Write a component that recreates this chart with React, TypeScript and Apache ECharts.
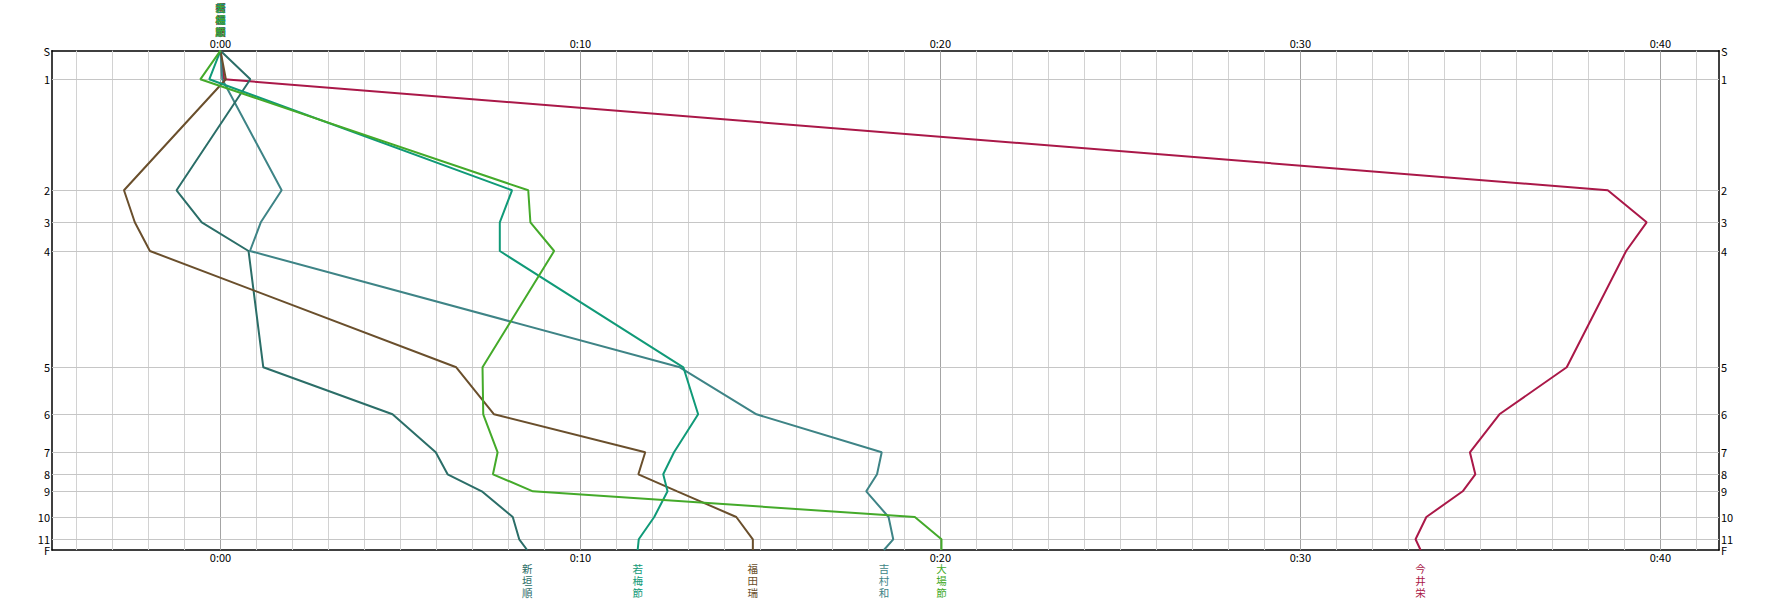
import React, { useEffect, useRef } from "react";
import * as echarts from "echarts";

// Controls (rows) and their vertical positions (cumulative leg scale)
const controls = ["S", "1", "2", "3", "4", "5", "6", "7", "8", "9", "10", "11", "F"];
const controlPos = [0, 28.6, 139.6, 171.6, 200.3, 316.6, 363.6, 401.6, 423.6, 440.6, 466.3, 488.6, 499.3];

// X axis tick labels (minutes) and minute grid lines
const majorTicks = [0, 10, 20, 30, 40];
const minuteLines = [-4, -3, -2, -1, 0, 1, 2, 3, 4, 5, 6, 7, 8, 9, 10, 11, 12, 13, 14, 15, 16, 17, 18, 19, 20, 21, 22, 23, 24, 25, 26, 27, 28, 29, 30, 31, 32, 33, 34, 35, 36, 37, 38, 39, 40, 41];

// Runner names
const runnerNames = ["今井栄", "吉村和", "新垣順", "福田瑞", "若梅節", "大場節"];

// Time (minutes, relative) at each control, per runner
const imai = [0, 0.1, 38.54, 39.62, 39.05, 37.4, 35.53, 34.71, 34.86, 34.51, 33.5, 33.2, 33.34];
const yoshimura = [0, 0.05, 1.7, 1.12, 0.82, 12.76, 14.89, 18.37, 18.24, 17.94, 18.56, 18.69, 18.43];
const aragaki = [0, 0.83, -1.22, -0.52, 0.78, 1.19, 4.78, 5.98, 6.31, 7.26, 8.12, 8.3, 8.52];
const fukuda = [0, 0.15, -2.68, -2.38, -1.96, 6.55, 7.6, 11.8, 11.61, 12.69, 14.33, 14.79, 14.79];
const wakaume = [0, -0.31, 8.1, 7.76, 7.76, 12.86, 13.27, 12.6, 12.3, 12.42, 12.05, 11.62, 11.59];
const ooba = [0, -0.56, 8.55, 8.61, 9.27, 7.28, 7.3, 7.7, 7.57, 8.68, 19.29, 20.03, 20.03];

const runnerTimes = [imai, yoshimura, aragaki, fukuda, wakaume, ooba];
const runnerColors = ["#aa1848", "#3e8486", "#2b6e68", "#6a4f2c", "#109a78", "#44aa2a"];

const FONT = "'Noto Sans CJK JP', 'Noto Sans', sans-serif";

function fmtTime(v: number) {
  const h = Math.floor(v / 60);
  const m = Math.round(v % 60);
  return `${h}:${String(m).padStart(2, "0")}`;
}

function ctrlLabel(v: number) {
  const i = controlPos.findIndex((p) => Math.abs(p - v) < 0.01);
  return i >= 0 ? controls[i] : "";
}

export default function App() {
  const ref = useRef<HTMLDivElement>(null);

  useEffect(() => {
    if (!ref.current) return;
    const chart = echarts.init(ref.current, null, { renderer: "svg" });

    const xMin = -4.68;
    const xMax = 41.63;
    const yMax = controlPos[controlPos.length - 1];

    const xAxisBase = (position: "top" | "bottom", margin: number) => ({
      type: "value",
      min: xMin,
      max: xMax,
      position,
      axisLine: { show: true, onZero: false, lineStyle: { color: "#000", width: 1.5 } },
      axisTick: { show: false },
      splitLine: { show: false },
      axisLabel: {
        customValues: majorTicks,
        formatter: (v: number) => fmtTime(v),
        color: "#000",
        fontSize: 11,
        fontFamily: FONT,
        margin,
        hideOverlap: false,
      },
    });

    const yAxisBase = (position: "left" | "right", values: number[], showLine: boolean) => ({
      type: "value",
      min: 0,
      max: yMax,
      inverse: true,
      position,
      axisLine: { show: showLine, onZero: false, lineStyle: { color: "#000", width: 1.5 } },
      axisTick: { show: false },
      splitLine: { show: false },
      axisLabel: {
        customValues: values,
        formatter: (v: number) => ctrlLabel(v),
        color: "#000",
        fontSize: 11,
        lineHeight: 10,
        fontFamily: FONT,
        margin: 2,
        showMinLabel: true,
        showMaxLabel: true,
        hideOverlap: false,
      },
    });

    const mainRows = controlPos.slice(0, -1);
    const finishRow = controlPos.slice(-1);

    const gridSeries = {
      type: "line",
      data: [],
      z: 1,
      silent: true,
      markLine: {
        z: 1,
        silent: true,
        symbol: ["none", "none"],
        label: { show: false },
        emphasis: { disabled: true },
        data: [
          ...minuteLines.map((m) => ({
            xAxis: m,
            lineStyle: { color: m % 10 === 0 ? "#a4a4a4" : "#d2d2d2", width: 1, type: "solid" },
          })),
          ...controlPos.slice(1, -1).map((p) => ({
            yAxis: p,
            lineStyle: { color: "#c6c6c6", width: 1, type: "solid" },
          })),
        ],
      },
    };

    const runnerSeries = runnerNames.map((name, k) => {
      const t = runnerTimes[k];
      const color = runnerColors[k];
      const vertical = name.split("").join("\n");
      return {
        name,
        type: "line",
        z: 3,
        data: controlPos.map((p, i) => [t[i], p]),
        symbol: "none",
        showSymbol: false,
        lineStyle: { color, width: 2 },
        itemStyle: { color },
        emphasis: { disabled: true },
        markPoint: {
          symbol: "rect",
          symbolSize: 1,
          silent: true,
          itemStyle: { color: "rgba(0,0,0,0)" },
          label: {
            show: true,
            formatter: vertical,
            color,
            fontSize: 10.5,
            lineHeight: 12,
            fontFamily: FONT,
          },
          data: [
            { coord: [t[0], controlPos[0]], label: { position: "top", distance: 13 } },
            {
              coord: [t[t.length - 1], controlPos[controlPos.length - 1]],
              label: { position: "bottom", distance: 12 },
            },
          ],
        },
      };
    });

    chart.setOption({
      animation: false,
      backgroundColor: "#fff",
      grid: { left: 52, right: 52, top: 50.7, bottom: 50, containLabel: false },
      xAxis: [xAxisBase("bottom", 1), xAxisBase("top", 2)],
      yAxis: [
        yAxisBase("left", mainRows, true),
        yAxisBase("right", mainRows, true),
        yAxisBase("left", finishRow, false),
        yAxisBase("right", finishRow, false),
      ],
      series: [gridSeries, ...runnerSeries],
    });

    return () => {
      chart.dispose();
    };
  }, []);

  return (
    <div
      ref={ref}
      style={{ position: "fixed", left: 0, top: 0, width: 1771, height: 600, background: "#fff" }}
    />
  );
}
